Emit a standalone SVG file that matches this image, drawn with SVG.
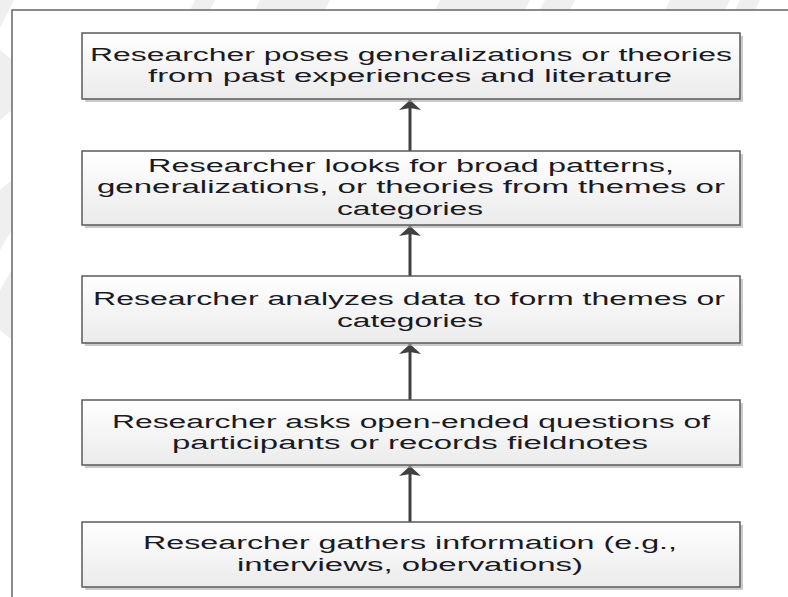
<svg xmlns="http://www.w3.org/2000/svg" width="788" height="597" viewBox="0 0 788 597">
  <defs>
    <linearGradient id="boxfill" x1="0" y1="0" x2="0" y2="1">
      <stop offset="0" stop-color="#ffffff"/>
      <stop offset="1" stop-color="#ebebeb"/>
    </linearGradient>
    <marker id="arrow" viewBox="0 -12 10 24" refX="10" refY="0" markerWidth="10" markerHeight="24" markerUnits="userSpaceOnUse" orient="auto">
      <path d="M10,0 L0,-11 L2,0 L0,11 Z" fill="#404040"/>
    </marker>
  </defs>
  <style>
    .box { fill: url(#boxfill); stroke: #5a5a5a; stroke-width: 1.5; }
    .shadow { fill: #a8a8a8; opacity: 0.6; }
    .lbl { font-family: "Liberation Sans", Arial, sans-serif; font-size: 18px; fill: #1a1a24; text-anchor: middle; }
    .conn { stroke: #404040; stroke-width: 3; fill: none; }
    .wm { fill: #efefef; }
  </style>

  <rect x="0" y="0" width="788" height="597" fill="#ffffff"/>
  <g id="watermark">
    <polygon class="wm" points="0,0 14,0 0,28"/>
    <polygon class="wm" points="0,50 12,60 12,110 0,120"/>
    <polygon class="wm" points="0,190 12,180 12,230 0,250"/>
    <polygon class="wm" points="0,290 12,270 12,340 0,330"/>
    <polygon class="wm" points="195,0 215,0 210,10 190,10"/>
    <polygon class="wm" points="260,0 330,0 325,10 255,10"/>
    <polygon class="wm" points="440,0 530,0 525,10 435,10"/>
    <polygon class="wm" points="545,0 575,0 570,10 540,10"/>
    <polygon class="wm" points="670,0 730,0 725,10 665,10"/>
    <polygon class="wm" points="740,0 760,0 755,10 735,10"/>
  </g>

  <rect id="frame" x="12" y="10" width="800" height="600" fill="#ffffff" stroke="#666666" stroke-width="1.5"/>

  <g id="connectors">
    <line class="conn" x1="410" y1="151" x2="410" y2="100" marker-end="url(#arrow)"/>
    <line class="conn" x1="410" y1="276" x2="410" y2="226" marker-end="url(#arrow)"/>
    <line class="conn" x1="410" y1="400" x2="410" y2="344" marker-end="url(#arrow)"/>
    <line class="conn" x1="410" y1="522" x2="410" y2="466" marker-end="url(#arrow)"/>
  </g>

  <g id="node1">
    <rect class="shadow" x="85" y="36" width="658" height="66"/>
    <rect class="box" x="82" y="33" width="658" height="66"/>
    <text class="lbl" x="411" y="61" textLength="642" lengthAdjust="spacingAndGlyphs">Researcher poses generalizations or theories</text>
    <text class="lbl" x="410" y="82" textLength="524" lengthAdjust="spacingAndGlyphs">from past experiences and literature</text>
  </g>

  <g id="node2">
    <rect class="shadow" x="85" y="154" width="658" height="74"/>
    <rect class="box" x="82" y="151" width="658" height="74"/>
    <text class="lbl" x="411" y="172" textLength="526" lengthAdjust="spacingAndGlyphs">Researcher looks for broad patterns,</text>
    <text class="lbl" x="411" y="193" textLength="628" lengthAdjust="spacingAndGlyphs">generalizations, or theories from themes or</text>
    <text class="lbl" x="410" y="215" textLength="146" lengthAdjust="spacingAndGlyphs">categories</text>
  </g>

  <g id="node3">
    <rect class="shadow" x="85" y="279" width="658" height="67"/>
    <rect class="box" x="82" y="276" width="658" height="67"/>
    <text class="lbl" x="409" y="305" textLength="632" lengthAdjust="spacingAndGlyphs">Researcher analyzes data to form themes or</text>
    <text class="lbl" x="410" y="327" textLength="146" lengthAdjust="spacingAndGlyphs">categories</text>
  </g>

  <g id="node4">
    <rect class="shadow" x="85" y="403" width="658" height="65"/>
    <rect class="box" x="82" y="400" width="658" height="65"/>
    <text class="lbl" x="411" y="428" textLength="598" lengthAdjust="spacingAndGlyphs">Researcher asks open-ended questions of</text>
    <text class="lbl" x="410" y="449" textLength="476" lengthAdjust="spacingAndGlyphs">participants or records fieldnotes</text>
  </g>

  <g id="node5">
    <rect class="shadow" x="85" y="525" width="658" height="65"/>
    <rect class="box" x="82" y="522" width="658" height="65"/>
    <text class="lbl" x="410" y="549" textLength="534" lengthAdjust="spacingAndGlyphs">Researcher gathers information (e.g.,</text>
    <text class="lbl" x="410" y="571" textLength="346" lengthAdjust="spacingAndGlyphs">interviews, obervations)</text>
  </g>
</svg>
